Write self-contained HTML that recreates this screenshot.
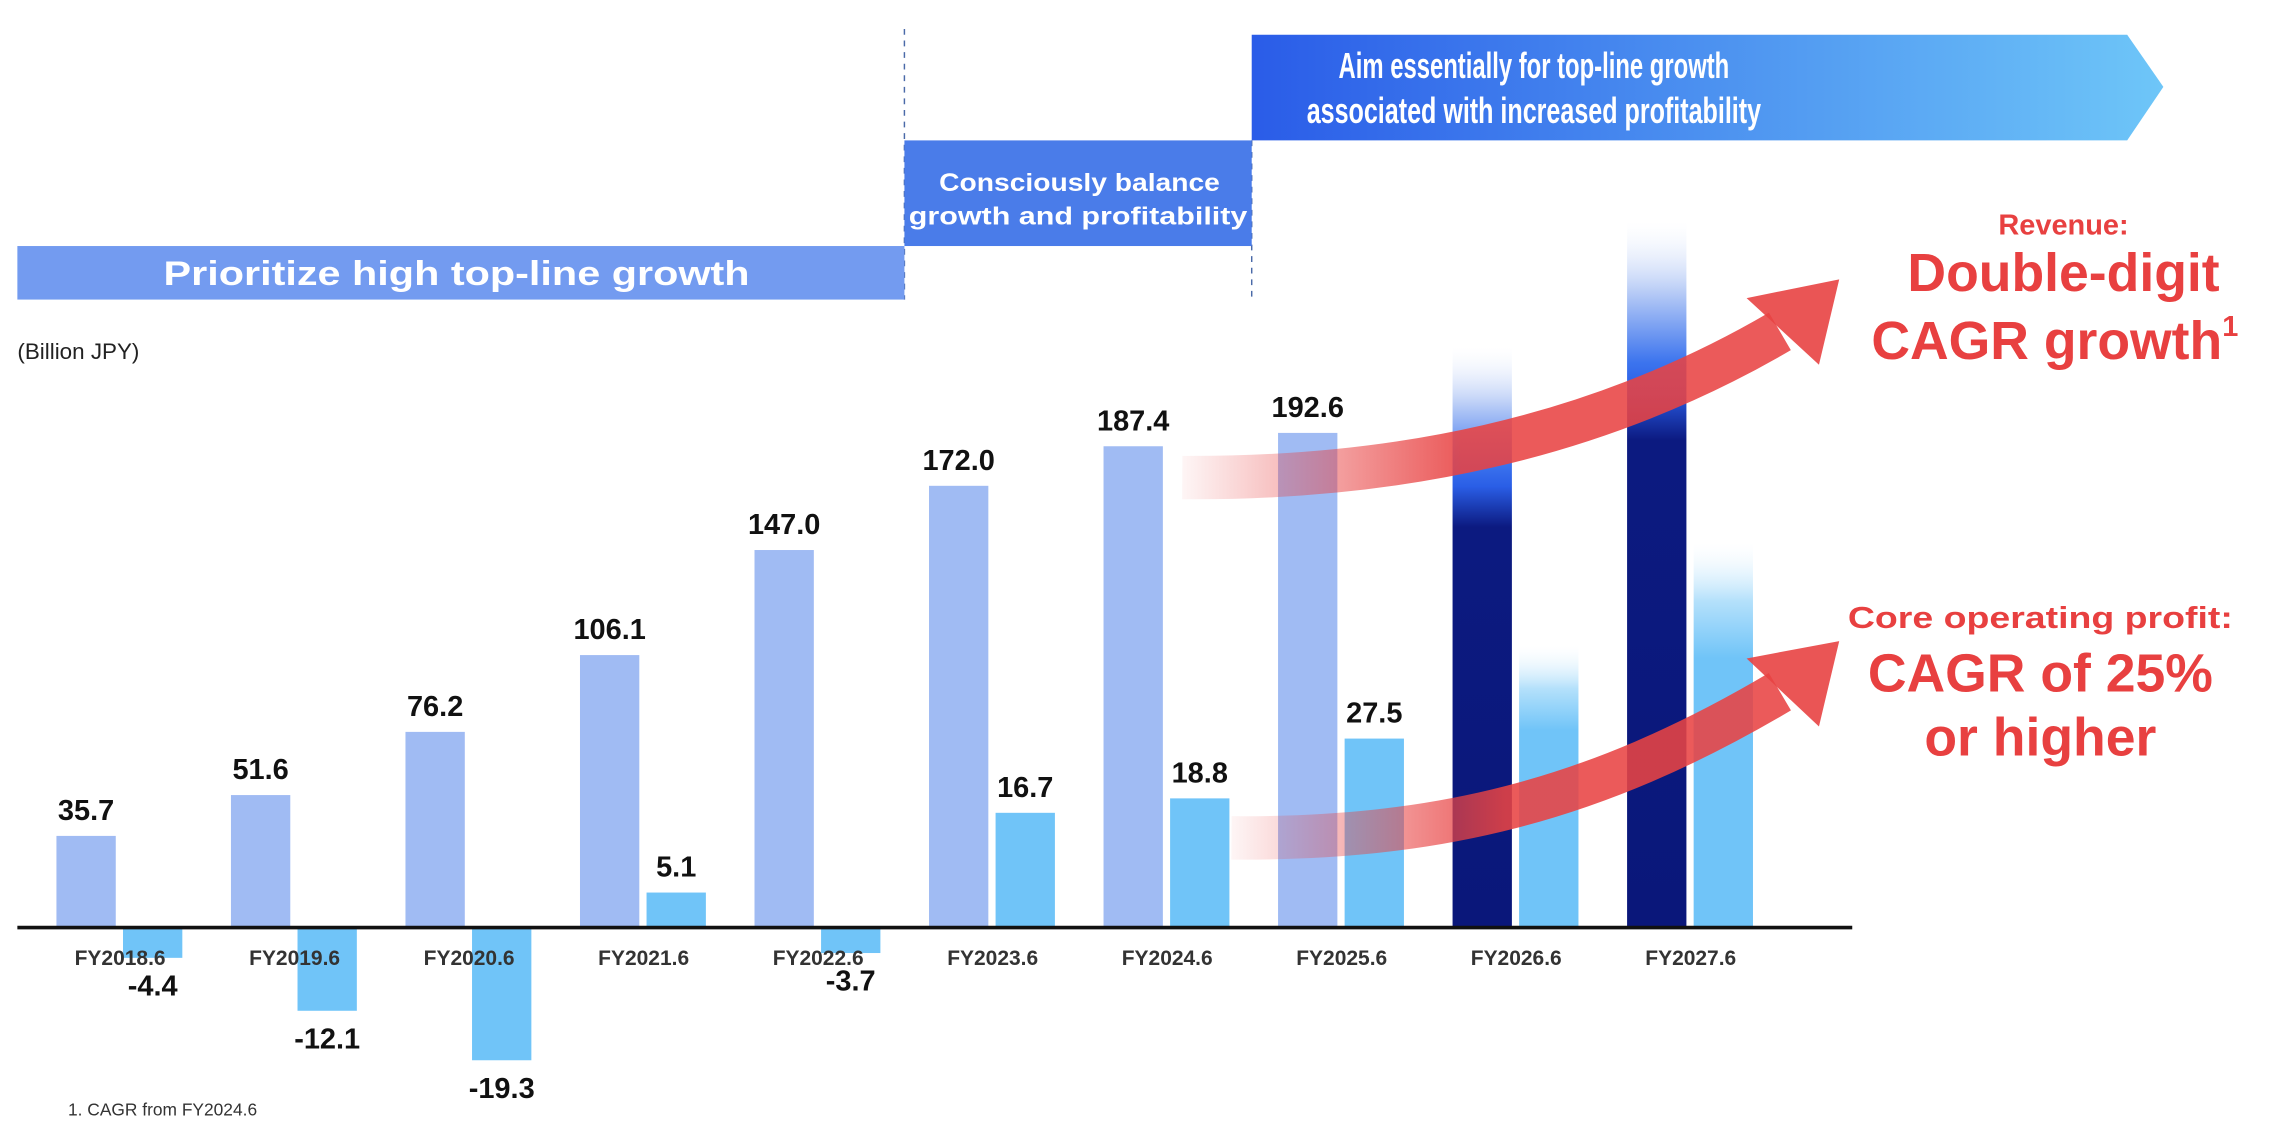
<!DOCTYPE html>
<html><head><meta charset="utf-8"><style>
html,body{margin:0;padding:0;background:#fff;}
svg{display:block;font-family:"Liberation Sans",sans-serif;}
</style></head><body>
<svg id="chart" width="2269" height="1124" viewBox="0 0 1568 776.7" xmlns="http://www.w3.org/2000/svg">
<defs>
<linearGradient id="topArrowGrad" x1="0" x2="1" y1="0" y2="0"><stop offset="0" stop-color="#2a5ce8"/><stop offset="1" stop-color="#6ec6f8"/></linearGradient>
<linearGradient id="navyGrad" x1="0" x2="0" y1="0" y2="1"><stop offset="0" stop-color="#ffffff" stop-opacity="0.2"/><stop offset="0.1" stop-color="#b8ccf6"/><stop offset="0.2" stop-color="#3c74ee"/><stop offset="0.24" stop-color="#2a5ee6"/><stop offset="0.31" stop-color="#0c1a80"/><stop offset="1" stop-color="#0a177a"/></linearGradient>
<linearGradient id="cyanGrad" x1="0" x2="0" y1="0" y2="1"><stop offset="0" stop-color="#ffffff" stop-opacity="0.2"/><stop offset="0.15" stop-color="#b5e1fb"/><stop offset="0.3" stop-color="#70c4f8"/><stop offset="1" stop-color="#70c4f8"/></linearGradient>
<linearGradient id="redGrad1" gradientUnits="userSpaceOnUse" x1="817" x2="1010" y1="0" y2="0"><stop offset="0" stop-color="#e84343" stop-opacity="0.05"/><stop offset="1" stop-color="#e84343" stop-opacity="0.88"/></linearGradient>
<linearGradient id="redGrad2" gradientUnits="userSpaceOnUse" x1="851" x2="1040" y1="0" y2="0"><stop offset="0" stop-color="#e84343" stop-opacity="0.05"/><stop offset="1" stop-color="#e84343" stop-opacity="0.88"/></linearGradient>
</defs>

<line x1="625" y1="20" x2="625" y2="207" stroke="#4a6aa8" stroke-width="1" stroke-dasharray="4,4"/>
<line x1="865" y1="97" x2="865" y2="207" stroke="#4a6aa8" stroke-width="1" stroke-dasharray="4,4"/>
<rect x="12" y="170" width="613" height="37" fill="#739bf0"/>
<text x="113" y="197" textLength="405" lengthAdjust="spacingAndGlyphs" fill="#fff" font-size="24" font-weight="bold">Prioritize high top-line growth</text>
<rect x="625" y="97" width="240" height="73" fill="#4a7ce9"/>
<text x="649" y="132" textLength="194" lengthAdjust="spacingAndGlyphs" fill="#fff" font-size="17" font-weight="bold">Consciously balance</text>
<text x="628" y="155" textLength="234" lengthAdjust="spacingAndGlyphs" fill="#fff" font-size="17" font-weight="bold">growth and profitability</text>
<polygon points="865,24 1470,24 1495,60 1470,97 865,97" fill="url(#topArrowGrad)"/>
<text x="925" y="54" textLength="270" lengthAdjust="spacingAndGlyphs" fill="#fff" font-size="25" font-weight="bold">Aim essentially for top-line growth</text>
<text x="903" y="85" textLength="314" lengthAdjust="spacingAndGlyphs" fill="#fff" font-size="25" font-weight="bold">associated with increased profitability</text>

<text x="12" y="248" font-size="15.5" fill="#222">(Billion JPY)</text>
<text x="47" y="771" font-size="12" fill="#333">1. CAGR from FY2024.6</text>

<g id="bars"></g>

<path d="M817 330 C960 331,1100 305,1230 229" fill="none" stroke="url(#redGrad1)" stroke-width="30"/>
<polygon points="1207,206 1271,193 1257,252" fill="#e84343" fill-opacity="0.9"/>
<path d="M851 579 C990 580,1100 555,1230 478" fill="none" stroke="url(#redGrad2)" stroke-width="30"/>
<polygon points="1207,455 1271,443 1257,502" fill="#e84343" fill-opacity="0.9"/>

<text x="1426" y="162" text-anchor="middle" fill="#e84040" font-size="20" font-weight="bold">Revenue:</text>
<text x="1426" y="201" text-anchor="middle" fill="#e84040" font-size="37" font-weight="bold">Double-digit</text>
<text x="1420" y="248" text-anchor="middle" fill="#e84040" font-size="37" font-weight="bold">CAGR growth<tspan font-size="20" dy="-16">1</tspan></text>
<text x="1277" y="434" textLength="266" lengthAdjust="spacingAndGlyphs" fill="#e84040" font-size="21" font-weight="bold">Core operating profit:</text>
<text x="1410" y="478" text-anchor="middle" fill="#e84040" font-size="37" font-weight="bold">CAGR of 25%</text>
<text x="1410" y="522" text-anchor="middle" fill="#e84040" font-size="37" font-weight="bold">or higher</text>
</svg>
<script>
const categories = ["FY2018.6","FY2019.6","FY2020.6","FY2021.6","FY2022.6","FY2023.6","FY2024.6","FY2025.6","FY2026.6","FY2027.6"];
const revenue = [35.7,51.6,76.2,106.1,147.0,172.0,187.4,192.6,226,275];
const profit = [-4.4,-12.1,-19.3,5.1,-3.7,16.7,18.8,27.5,41,56];
const revenueLabels = ["35.7","51.6","76.2","106.1","147.0","172.0","187.4","192.6","",""];
const profitLabels = ["-4.4","-12.1","-19.3","5.1","-3.7","16.7","18.8","27.5","",""];
const isTarget = [false,false,false,false,false,false,false,false,true,true];

const NS = "http://www.w3.org/2000/svg";
const baseY = 641;
function xGroup(i){ return 39 + i*120.6; }
function yRev(v){ return baseY - v*1.775; }
function yProf(v){ return baseY - v*4.75; }
const g = document.getElementById('bars');
const front = [];
function mk(tag, attrs){ const e=document.createElementNS(NS,tag); for(const k in attrs) e.setAttribute(k,attrs[k]); return e; }

categories.forEach((c,i)=>{
  const x = xGroup(i);
  const ry = yRev(revenue[i]);
  const r = mk('rect',{x:x,y:ry,width:41,height:baseY-ry,fill:isTarget[i]?'url(#navyGrad)':'#a0bbf3'});
  
  
  g.appendChild(r);
  const py = yProf(profit[i]);
  const top = Math.min(py, baseY), h = Math.abs(baseY-py);
  const p = mk('rect',{x:x+46,y:top,width:41,height:h,fill:isTarget[i]?'url(#cyanGrad)':'#70c4f8'});
  
  
  g.appendChild(p);
  if(revenueLabels[i]){
    const t = mk('text',{x:x+20.5,y:ry-11,'text-anchor':'middle','font-size':'20','font-weight':'bold',fill:'#111'});
    t.textContent = revenueLabels[i];
    
    
    front.push(t);
  }
  if(profitLabels[i]){
    const neg = profit[i] < 0;
    const t = mk('text',{x:x+66.5,y:neg?py+26:py-11,'text-anchor':'middle','font-size':'20','font-weight':'bold',fill:'#111'});
    t.textContent = profitLabels[i];
    
    
    front.push(t);
  }
  const ct = mk('text',{x:x+44,y:667,'text-anchor':'middle','font-size':'14.5','font-weight':'bold',fill:'#333'});
  ct.textContent = c;
  
  
  front.push(ct);
});
const axis = mk('line',{x1:12,y1:baseY,x2:1280,y2:baseY,stroke:'#111','stroke-width':2.5});


g.appendChild(axis);
front.forEach(e=>g.appendChild(e));
</script>
</body></html>
